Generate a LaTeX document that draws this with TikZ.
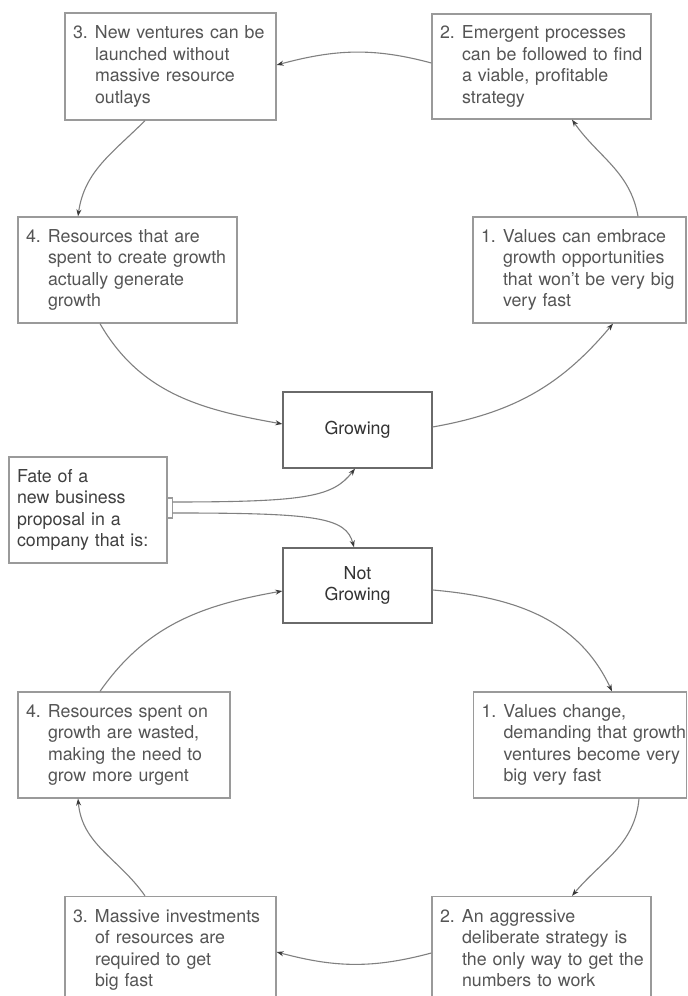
\documentclass[tikz,border=0pt]{standalone}
\usepackage{fontspec}
\setmainfont{TeX Gyre Heros}
\usetikzlibrary{arrows.meta}
\definecolor{boxgray}{HTML}{9A9A9A}
\definecolor{stategray}{HTML}{6A6A6A}
\definecolor{txtgray}{HTML}{555555}
\definecolor{linegray}{HTML}{808080}
\definecolor{tipgray}{HTML}{3A3A3A}
% numbered paragraph with a hanging indent
\newcommand{\numbered}[2]{\noindent\begin{tabular}{@{}l@{}l@{}}\makebox[22pt][l]{#1}&#2\end{tabular}}
\begin{document}
\begin{tikzpicture}[x=1pt,y=1pt,
  stepbox/.style={draw=boxgray, line width=1.3pt, inner xsep=8pt, inner ysep=0pt,
    text=txtgray, font=\fontsize{17.8}{21.5}\selectfont, align=left},
  statebox/.style={draw=stategray, line width=1.3pt, inner sep=0pt, text=black!80,
    font=\fontsize{17.8}{21.5}\selectfont, align=center,
    minimum width=149pt, minimum height=75pt},
  flow/.style={draw=linegray, line width=1.1pt,
    -{Stealth[length=7pt,width=5pt,color=tipgray]}}]
\useasboundingbox (0,0) rectangle (688,996);
\fill[white] (0,0) rectangle (688,996);

% growing cycle
\node[stepbox, text width=195pt, minimum height=107pt] (T3) at (170.5,929.5)
  {\numbered{3.}{New ventures can be\\&launched without\\&massive resource\\&outlays}};
\node[stepbox, text width=203pt, minimum height=105pt] (T2) at (541.5,929.5)
  {\numbered{2.}{Emergent processes\\&can be followed to find\\&a viable, profitable\\&strategy}};
\node[stepbox, text width=203pt, minimum height=106pt] (T4) at (127.5,726)
  {\numbered{4.}{Resources that are\\&spent to create growth\\&actually generate\\&growth}};
\node[stepbox, text width=197pt, minimum height=106pt] (T1) at (579.5,726)
  {\numbered{1.}{Values can embrace\\&growth opportunities\\&that won't be very big\\&very fast}};

% the two states and the proposal
\node[statebox, minimum height=76pt] (G) at (357.5,566) {Growing};
\node[statebox] (NG) at (357.5,410.5) {Not\\Growing};
\node[stepbox, text width=142pt, minimum height=106pt, text=black!75] (Fate) at (88,486)
  {Fate of a\\new business\\proposal in a\\company that is:};

% not-growing cycle
\node[stepbox, text width=196pt, minimum height=106pt] (B4) at (124,251)
  {\numbered{4.}{Resources spent on\\&growth are wasted,\\&making the need to\\&grow more urgent}};
\node[stepbox, text width=197pt, minimum height=106pt] (B1) at (580,251)
  {\numbered{1.}{Values change,\\&demanding that growth\\&ventures become very\\&big very fast}};
\node[stepbox, text width=195pt, minimum height=107pt] (B3) at (170.5,46)
  {\numbered{3.}{Massive investments\\&of resources are\\&required to get\\&big fast}};
\node[stepbox, text width=203pt, minimum height=107pt] (B2) at (541.5,46)
  {\numbered{2.}{An aggressive\\&deliberate strategy is\\&the only way to get the\\&numbers to work}};

% growing cycle connectors
\draw[flow] ([yshift=3.5pt]T2.west) to[out=165,in=15] ([yshift=1.5pt]T3.east);
\draw[flow] ([xshift=-25.5pt]T3.south) to[out=-135,in=82] ([xshift=-49.5pt]T4.north);
\draw[flow] ([xshift=-27.5pt]T4.south) to[out=-60,in=170] ([yshift=6pt]G.west);
\draw[flow] ([yshift=3pt]G.east) to[out=10,in=-130] ([xshift=33.5pt]T1.south);
\draw[flow] ([xshift=58.5pt]T1.north) to[out=100,in=-55] ([xshift=30.5pt]T2.south);

% fork from the proposal
\draw[boxgray, line width=1.1pt] ([yshift=12pt]Fate.east) -- ++(5,0) -- ++(0,-20) -- ++(-5,0);
\coordinate (forkA) at ([xshift=5pt,yshift=8pt]Fate.east);
\coordinate (forkB) at ([xshift=5pt,yshift=-3pt]Fate.east);
\draw[flow] (forkA) .. controls +(135,0) and +(-22,-28) .. ([xshift=-2.5pt]G.south);
\draw[flow] (forkB) .. controls +(145,0) and +(-8,30) .. ([xshift=-3.5pt]NG.north);

% not-growing cycle connectors
\draw[flow] ([yshift=-4.5pt]NG.east) to[out=-5,in=115] ([xshift=32pt]B1.north);
\draw[flow] ([xshift=59pt]B1.south) to[out=-95,in=50] ([xshift=30.5pt]B2.north);
\draw[flow] ([yshift=-3pt]B2.west) to[out=-165,in=-15] ([yshift=-2pt]B3.east);
\draw[flow] ([xshift=-25.5pt]B3.north) to[out=125,in=-85] ([xshift=-46pt]B4.south);
\draw[flow] ([xshift=-24pt]B4.north) to[out=55,in=-170] ([yshift=-5.5pt]NG.west);
\end{tikzpicture}
\end{document}
